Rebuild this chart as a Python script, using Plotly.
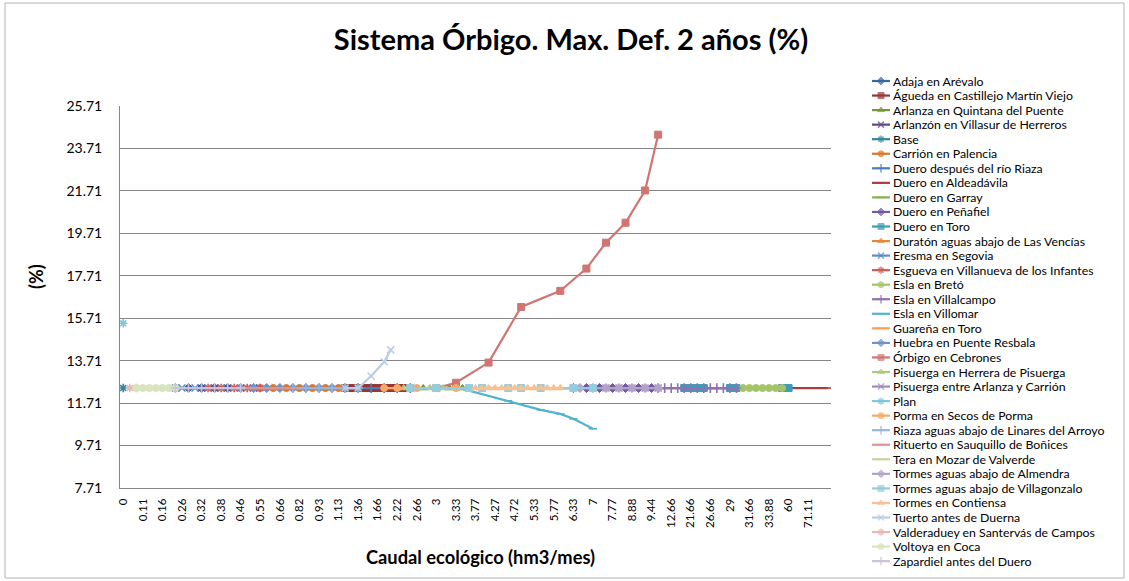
import plotly.graph_objects as go

# Category tick labels (every third category of the x axis is labelled)
tick_labels = ["0", "0.11", "0.16", "0.26", "0.32", "0.38", "0.46", "0.55", "0.66", "0.82",
               "0.93", "1.13", "1.36", "1.66", "2.22", "2.66", "3", "3.33", "3.77", "4.27",
               "4.72", "5.33", "5.77", "6.33", "7", "7.77", "8.88", "9.44", "12.66", "21.66",
               "26.66", "29", "31.66", "33.88", "60", "71.11"]
n_categories = 109
label_step = 3

# most scenarios sit on the base deficit value
base_value = 12.42

series_names = [
    "Adaja en Arévalo", "Águeda en Castillejo Martín Viejo", "Arlanza en Quintana del Puente",
    "Arlanzón en Villasur de Herreros", "Base", "Carrión en Palencia", "Duero después del río Riaza",
    "Duero en Aldeadávila", "Duero en Garray", "Duero en Peñafiel", "Duero en Toro",
    "Duratón aguas abajo de Las Vencías", "Eresma en Segovia", "Esgueva en Villanueva de los Infantes",
    "Esla en Bretó", "Esla en Villalcampo", "Esla en Villomar", "Guareña en Toro",
    "Huebra en Puente Resbala", "Órbigo en Cebrones", "Pisuerga en Herrera de Pisuerga",
    "Pisuerga entre Arlanza y Carrión", "Plan", "Porma en Secos de Porma",
    "Riaza aguas abajo de Linares del Arroyo", "Rituerto en Sauquillo de Boñices",
    "Tera en Mozar de Valverde", "Tormes aguas abajo de Almendra", "Tormes aguas abajo de Villagonzalo",
    "Tormes en Contiensa", "Tuerto antes de Duerna", "Valderaduey en Santervás de Campos",
    "Voltoya en Coca", "Zapardiel antes del Duero",
]

# category positions of the points of every series that stays at the base value
flat_positions = {
    "Adaja en Arévalo": [8, 10, 12, 14, 16],
    "Águeda en Castillejo Martín Viejo": [34, 35, 36, 37, 38, 39, 40, 41, 42, 43],
    "Arlanza en Quintana del Puente": [42, 44, 46, 48, 50, 52],
    "Arlanzón en Villasur de Herreros": [12, 14, 16, 18, 20],
    "Carrión en Palencia": [21, 23, 25, 27, 29, 31, 33],
    "Duero después del río Riaza": [36, 38, 40, 42, 44],
    "Duero en Aldeadávila": list(range(40, 109)),
    "Duero en Garray": list(range(42, 55)),
    "Duero en Peñafiel": [69, 71, 73, 75, 77, 79, 81],
    "Duero en Toro": [86, 87, 88, 89, 93, 94, 101, 102],
    "Duratón aguas abajo de Las Vencías": [20, 22, 24, 26, 28, 30, 32, 34],
    "Eresma en Segovia": [8, 9, 11, 13, 15],
    "Esgueva en Villanueva de los Infantes": [13, 15, 17, 19, 21],
    "Esla en Bretó": list(range(95, 102)),
    "Esla en Villalcampo": list(range(82, 95)),
    "Guareña en Toro": list(range(20, 35)),
    "Huebra en Puente Resbala": [18, 20, 22, 24, 26, 28, 30, 32, 34, 36],
    "Pisuerga en Herrera de Pisuerga": [43, 45, 47, 49, 51, 53],
    "Pisuerga entre Arlanza y Carrión": [74, 76, 78, 80, 82],
    "Porma en Secos de Porma": [40, 42, 45, 48, 51, 53],
    "Riaza aguas abajo de Linares del Arroyo": [26, 28, 30, 32, 34, 36],
    "Rituerto en Sauquillo de Boñices": list(range(16, 27)),
    "Tera en Mozar de Valverde": list(range(44, 53)),
    "Tormes aguas abajo de Almendra": [70, 72, 74, 76, 78, 80, 82],
    "Tormes aguas abajo de Villagonzalo": [44, 48, 53, 55, 59, 61, 64, 69, 72],
    "Tormes en Contiensa": list(range(54, 68)),
    "Valderaduey en Santervás de Campos": [1, 2],
    "Voltoya en Coca": [2, 3, 4, 5, 6, 7, 8],
    "Zapardiel antes del Duero": [8, 10, 12, 14, 16, 18],
}

# series that leave the base value
base_x, base_y = [0], [12.42]
plan_x, plan_y = [0], [15.47]
villomar_x = [44, 48, 52, 59, 64, 67, 69, 72]
villomar_y = [12.42, 12.42, 12.38, 11.82, 11.39, 11.20, 10.97, 10.50]
orbigo_x = [44, 48, 51, 56, 61, 67, 71, 74, 77, 80, 82]
orbigo_y = [12.42, 12.42, 12.67, 13.62, 16.24, 17.00, 18.05, 19.27, 20.21, 21.73, 24.36]
tuerto_x = [34, 36, 38, 40, 41]
tuerto_y = [12.42, 12.42, 12.99, 13.66, 14.22]

explicit = {
    "Base": (base_x, base_y),
    "Plan": (plan_x, plan_y),
    "Esla en Villomar": (villomar_x, villomar_y),
    "Órbigo en Cebrones": (orbigo_x, orbigo_y),
    "Tuerto antes de Duerna": (tuerto_x, tuerto_y),
}

colors = ["#3B679E", "#953735", "#77933C", "#604A7B", "#31859C", "#D8772F",
          "#4A7EBB", "#A8403C", "#8DB052", "#7559A0", "#3E9CB6", "#E8873A",
          "#5B8BCB", "#CD5B58", "#A5C467", "#8D71B0", "#52B3CE", "#F9A05A",
          "#6E93CA", "#D07572", "#ADC97A", "#9F8BC0", "#82C6D8", "#F9A868",
          "#9BB4DA", "#D99694", "#C3D69B", "#B3A2C7", "#93CDDD", "#FAC090",
          "#B9CDE5", "#E6B9B8", "#D7E4BD", "#CCC1DA"]

# Excel automatic marker cycle: diamond, square, triangle, x, star, circle, plus, dash, long dash
marker_cycle = ["diamond", "square", "triangle-up", "x-thin-open", "asterisk-open",
                "circle", "cross-thin-open", "line-ew-open", "line-ew-open"]


def marker_style(i):
    sym = marker_cycle[i % len(marker_cycle)]
    size = 7
    if sym == "line-ew-open":
        size = 6 if i % 9 == 7 else 9
    width = 1.6 if sym.endswith("open") else 1
    return sym, size, width


# figure geometry in pixels
W, H = 1129, 581
plot_left, plot_right, plot_top, plot_bottom = 120, 831, 106, 488
legend_left = 855
legend_y0, legend_dy = 81, 14.55

fig = go.Figure()
for i, name in enumerate(series_names):
    if name in explicit:
        xs, ys = explicit[name]
    else:
        xs = flat_positions[name]
        ys = [base_value] * len(xs)
    sym, size, mw = marker_style(i)
    fig.add_trace(go.Scatter(
        x=xs, y=ys, name=name, mode="lines+markers", showlegend=False,
        line=dict(color=colors[i], width=2.2),
        marker=dict(symbol=sym, size=size, color=colors[i], line=dict(color=colors[i], width=mw)),
    ))

# hand-made legend (Excel spacing is tighter than plotly's legend allows)
annotations = []
for i, name in enumerate(series_names):
    sym, size, mw = marker_style(i)
    ly = legend_y0 + legend_dy * i
    fig.add_trace(go.Scatter(
        x=[872, 881, 890], y=[ly, ly, ly], xaxis="x2", yaxis="y2", mode="lines+markers",
        showlegend=False, hoverinfo="skip",
        line=dict(color=colors[i], width=2.2),
        marker=dict(symbol=sym, size=[0, size - 1, 0], color=colors[i],
                    line=dict(color=colors[i], width=mw)),
    ))
    annotations.append(dict(x=891, y=ly, xref="x2", yref="y2", text=name, showarrow=False,
                            xanchor="left", yanchor="middle", font=dict(size=12.3, color="#000000")))

annotations.append(dict(x=480 / W, y=1 - 557 / H, xref="paper", yref="paper",
                        text="<b>Caudal ecológico (hm3/mes)</b>", showarrow=False,
                        xanchor="center", yanchor="middle", font=dict(size=18.3)))
annotations.append(dict(x=36 / W, y=1 - 277 / H, xref="paper", yref="paper",
                        text="<b>(%)</b>", showarrow=False, textangle=-90,
                        xanchor="center", yanchor="middle", font=dict(size=18)))

tick_positions = [k * label_step for k in range(len(tick_labels))]

fig.update_layout(
    width=W, height=H,
    margin=dict(l=0, r=0, t=0, b=0),
    paper_bgcolor="white", plot_bgcolor="rgba(0,0,0,0)",
    font=dict(family="Lato, Liberation Sans, sans-serif", color="#000000", size=13),
    title=dict(text="<b>Sistema Órbigo. Max. Def. 2 años (%)</b>", x=571 / W, xanchor="center",
               y=1 - 40 / H, yanchor="middle", font=dict(size=29)),
    showlegend=False,
    annotations=annotations,
    shapes=[dict(type="rect", xref="paper", yref="paper",
                 x0=5 / W, x1=1124 / W, y0=3 / H, y1=1 - 3 / H,
                 line=dict(color="#B3B3B3", width=1), fillcolor="rgba(0,0,0,0)", layer="below")],
    xaxis=dict(
        domain=[plot_left / W, plot_right / W],
        range=[-0.5, n_categories - 0.5], tickmode="array", tickvals=tick_positions,
        ticktext=tick_labels, tickangle=-90, showgrid=False, zeroline=False,
        showline=True, linecolor="#868686", linewidth=1,
        ticks="outside", ticklen=5, tickcolor="rgba(0,0,0,0)",
        tickfont=dict(size=11.5), automargin=False,
    ),
    yaxis=dict(
        domain=[1 - plot_bottom / H, 1 - plot_top / H],
        range=[7.71, 25.71], tick0=7.71, dtick=2, tickformat=".2f",
        showgrid=True, gridcolor="#868686", gridwidth=1, zeroline=False,
        showline=True, linecolor="#868686", linewidth=1,
        ticks="outside", ticklen=14, tickcolor="rgba(0,0,0,0)",
        tickfont=dict(size=14), automargin=False,
    ),
    xaxis2=dict(domain=[legend_left / W, 1], range=[legend_left, W], visible=False,
                anchor="y2", fixedrange=True),
    yaxis2=dict(domain=[0, 1], range=[H, 0], visible=False, anchor="x2", fixedrange=True),
)

# drop the browser's default page margin so the figure sits at the window's corner
fig.write_html("out.html", config={"displayModeBar": False},
               post_script="document.body.style.margin='0px';")
